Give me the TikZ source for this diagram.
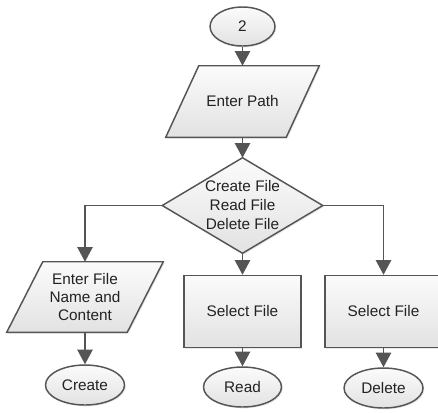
\documentclass[tikz,border=0pt]{standalone}
\usepackage{fontspec}
\setmainfont{Liberation Sans}
\usetikzlibrary{arrows.meta,calc,shadows,shapes.geometric,backgrounds}
\definecolor{edgec}{HTML}{555555}
\definecolor{fillA}{HTML}{FBFBFB}
\definecolor{fillB}{HTML}{E2E2E2}
\definecolor{txt}{HTML}{222222}
\begin{document}
\begin{tikzpicture}[x=0.75pt,y=-0.75pt,
  font=\fontsize{11.5}{14}\selectfont,
  shapebox/.style={draw=edgec, line width=1.1pt, top color=fillA, bottom color=fillB,
    drop shadow={opacity=0.18, shadow xshift=1pt, shadow yshift=-1pt}},
  lbl/.style={inner sep=0pt, align=center, text=txt},
  term/.style={ellipse, shapebox, inner sep=0pt, text=txt},
  proc/.style={rectangle, shapebox, inner sep=0pt, text=txt, align=center},
  arr/.style={draw=edgec, line width=1.2pt, -{Triangle[width=11.5pt,length=11pt]}}
]
\useasboundingbox (0,0) rectangle (438,412);
\clip (0,0) rectangle (438,412);

% nodes
\node[term, minimum width=65*0.75pt, minimum height=39*0.75pt] (start) at (242.5,26.5) {2};
\node[lbl, minimum width=120*0.75pt, minimum height=71*0.75pt] (ep) at (242.5,101.5) {Enter Path};
\node[lbl, minimum width=160*0.75pt, minimum height=95*0.75pt,
      font=\fontsize{11.5}{14.25}\selectfont] (dec) at (242.5,205.5) {Create File\\Read File\\Delete File};
\node[lbl, minimum width=120*0.75pt, minimum height=70*0.75pt,
      font=\fontsize{11.5}{13.5}\selectfont] (lp) at (85,297) {Enter File\\Name and\\Content};
\node[proc, minimum width=117*0.75pt, minimum height=72*0.75pt] (sel1) at (242.5,311.5) {Select File};
\node[proc, minimum width=117*0.75pt, minimum height=72*0.75pt] (sel2) at (383.5,311.5) {Select File};
\node[term, minimum width=79*0.75pt, minimum height=40*0.75pt] (cre) at (85,385) {Create};
\node[term, minimum width=78*0.75pt, minimum height=40*0.75pt] (rd) at (242.5,387) {Read};
\node[term, minimum width=79*0.75pt, minimum height=40*0.75pt] (del) at (383.5,388) {Delete};

% outlines of parallelograms and diamond
\begin{scope}[on background layer]
\path[shapebox] ($(ep.north west)+(16.5,0)$) -- ($(ep.north east)+(16.5,0)$)
  -- ($(ep.south east)-(16.5,0)$) -- ($(ep.south west)-(16.5,0)$) -- cycle;
\path[shapebox] ($(lp.north west)+(18,0)$) -- ($(lp.north east)+(18,0)$)
  -- ($(lp.south east)-(18,0)$) -- ($(lp.south west)-(18,0)$) -- cycle;
\path[shapebox] (dec.north) -- (dec.east) -- (dec.south) -- (dec.west) -- cycle;
\end{scope}

% connectors
\draw[arr] (start.south) -- (ep.north);
\draw[arr] (ep.south) -- (dec.north);
\draw[arr] (dec.south) -- (sel1.north);
\draw[arr] (dec.west) -| (lp.north);
\draw[arr] (dec.east) -| (sel2.north);
\draw[arr] (lp.south) -- (cre.north);
\draw[arr] (sel1.south) -- (rd.north);
\draw[arr] (sel2.south) -- (del.north);
\end{tikzpicture}
\end{document}
